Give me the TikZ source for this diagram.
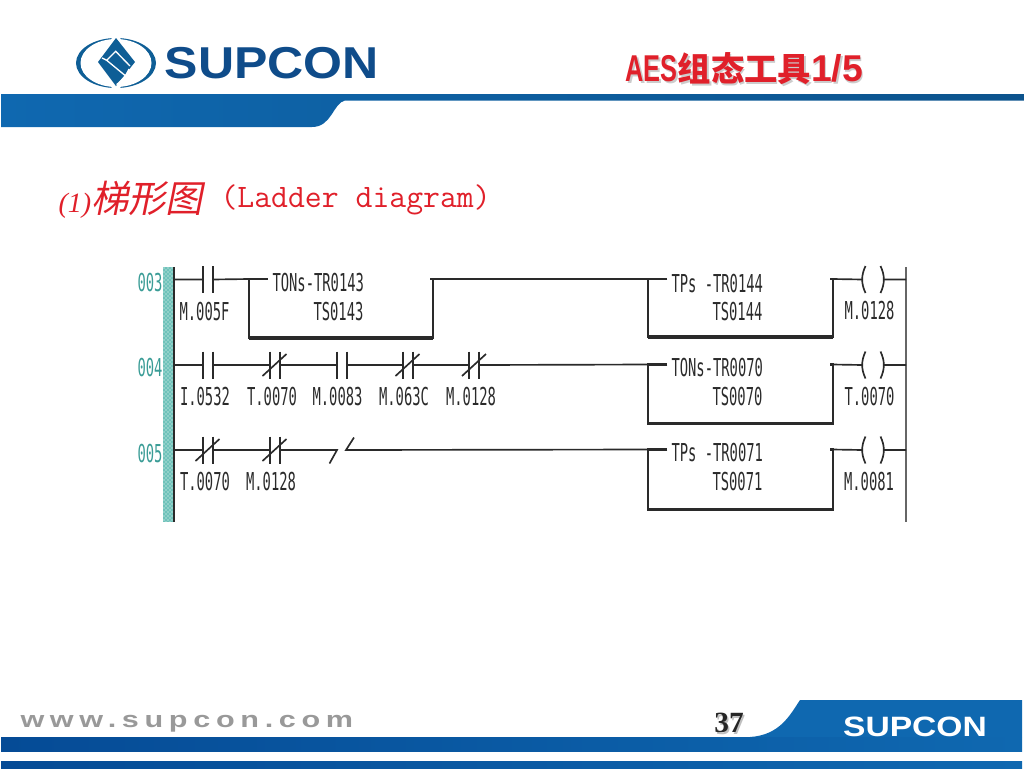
\documentclass[tikz,border=0pt]{standalone}
\usepackage{graphicx}
\usepackage{fontspec}
\usetikzlibrary{patterns}
\newfontfamily\plcfont[FakeStretch=0.56]{DejaVu Sans Mono}
\newfontfamily\logofont[FakeStretch=1.12]{Liberation Sans}
\newfontfamily\footlogofont[FakeStretch=1.2]{Liberation Sans}
\newfontfamily\webfont[FakeStretch=1.35,LetterSpace=25]{Liberation Sans}
\newfontfamily\arialfont{Liberation Sans}
\newfontfamily\timesfont{Liberation Serif}
\newfontfamily\cjkfont{Noto Sans CJK SC}
\newfontfamily\cjkslant[FakeSlant=0.2]{Noto Sans CJK SC}
\definecolor{barblue}{HTML}{0F68B0}
\definecolor{bardark}{HTML}{054B96}
\definecolor{logoblue}{HTML}{0F4C8A}
\definecolor{titlered}{HTML}{E0202A}
\definecolor{railteal}{HTML}{6FC2BA}
\definecolor{numteal}{HTML}{3A9C96}
\definecolor{plcink}{HTML}{2A2A2A}
\newcommand{\titletext}{{\arialfont\bfseries\scalebox{0.68}[1]{AES}}{\cjkfont\bfseries\fontsize{25}{27}\selectfont 组态工具}{\arialfont\bfseries 1/5}}
\newcommand{\timerbox}[1]{\draw[blockline] ([xshift=14.25pt]#1.north west) -- (#1.north west) -- (#1.south west) -- (#1.south east) -- (#1.north east) -- ([xshift=-2.25pt]#1.north east);
	\draw[blockline,line width=2.3pt] (#1.south west) -- (#1.south east);}
\tikzset{every picture/.style={line width=0.75pt}}
\tikzset{
	wire/.style={line width=1.25pt,draw=plcink},
	blockline/.style={line width=1.6pt,draw=plcink},
	plctext/.style={inner sep=0pt,text=plcink,font=\plcfont\fontsize{18.5}{20}\selectfont},
	rungnum/.style={inner sep=0pt,text=numteal,font=\plcfont\fontsize{18.5}{20}\selectfont},
	timer/.style={inner sep=0pt,minimum width=137.5pt},
	nocontact/.style={inner sep=0pt,minimum width=6.75pt,minimum height=19.5pt,append after command={
		(\tikzlastnode.north west) edge[wire,line width=1.5pt] (\tikzlastnode.south west)
		(\tikzlastnode.north east) edge[wire,line width=1.5pt] (\tikzlastnode.south east)}},
	nccontact/.style={nocontact,append after command={
		([shift={(-9pt,8.25pt)}]\tikzlastnode.center) edge[wire] ([shift={(9pt,-8.25pt)}]\tikzlastnode.center)}},
	coil/.style={inner sep=0pt,minimum width=15pt,minimum height=19.5pt,append after command={
		([xshift=2.25pt]\tikzlastnode.north west) edge[wire,bend left=25] ([xshift=2.25pt]\tikzlastnode.south west)
		([xshift=-2.25pt]\tikzlastnode.north east) edge[wire,bend right=25] ([xshift=-2.25pt]\tikzlastnode.south east)}},
}

\begin{document}
\begin{tikzpicture}[x=0.75pt,y=0.75pt,yscale=-1,xscale=1]
	\useasboundingbox (0,0) rectangle (1024,768);

	%Header band
	\shade [left color=barblue,right color=barblue!80!black] (1,94) -- (1024,94) -- (1024,100.5) -- (345,100.5) .. controls (333,103) and (332,127) .. (312,127) -- (1,127) -- cycle ;
	%Footer bands
	\shade [left color=bardark,right color=barblue] (1,737) -- (1022,737) -- (1022,751) -- (1,751) -- cycle ;
	\fill [barblue] (750,737) .. controls (780,735) and (790,715) .. (800,700) -- (1022,700) -- (1022,737) -- cycle ;
	\shade [left color=bardark,right color=barblue] (1,761) -- (1022,761) -- (1022,768) -- (1,768) -- cycle ;

	%Logo
	\fill [logoblue!90!cyan] (116,63) ellipse [x radius=40,y radius=25];
	\fill [white] (116,63) ellipse [x radius=35.5,y radius=24];
	\fill [white] (92,63) -- (116,33) -- (140,63) -- (116,93) -- cycle ;
	\fill [logoblue!90!cyan] (98,62) -- (116,38) -- (135,62) -- (116,86) -- cycle ;
	\draw [white,line width=1pt] (130,66) -- (115.7,51.3) -- (106.7,60.3) -- (125.7,76) -- (116.7,84.7) ;
	\draw [white,line width=1pt] (102,58) -- (106.7,60.3) (125.7,76) -- (129,69) ;

	% Text Node
	\node (logotext) at (272,63) {\logofont\bfseries\fontsize{33.5}{36}\selectfont\color{logoblue}SUPCON};
	% Text Node
	\node [text=black!20,anchor=west,inner sep=0pt,font=\fontsize{28}{30}\selectfont] (titleshade) at (626.5,70.5) {\titletext};
	% Text Node
	\node [text=titlered,anchor=west,inner sep=0pt,font=\fontsize{28}{30}\selectfont] (title) at (625,69) {\titletext};
	% Text Node
	\node [text=titlered,anchor=west,inner sep=0pt] (heading) at (58,200) {{\timesfont\itshape\fontsize{21}{24}\selectfont (1)}{\cjkslant\fontsize{28}{30}\selectfont 梯形图}};
	% Text Node
	\node [text=titlered,anchor=west,inner sep=0pt] (headingen) at (220,200) {\ttfamily\fontsize{24.6}{26}\selectfont (Ladder diagram)};
	% Text Node
	\node [text=black!40,anchor=base west,inner sep=0pt] (website) at (20,727) {\webfont\bfseries\fontsize{17}{20}\selectfont www.supcon.com};
	% Text Node
	\node [text=black!25,inner sep=0pt] (pageshade) at (730.5,724.5) {\timesfont\bfseries\fontsize{22}{24}\selectfont 37};
	% Text Node
	\node [text=black!85,inner sep=0pt] (page) at (729,723) {\timesfont\bfseries\fontsize{22}{24}\selectfont 37};
	% Text Node
	\node [text=white,inner sep=0pt] (footlogo) at (915,727) {\footlogofont\bfseries\fontsize{21}{24}\selectfont SUPCON};

	%Rails
	\fill [railteal] (163,267) rectangle (172.5,522);
	\fill [pattern=crosshatch dots,pattern color=white] (163,267) rectangle (172.5,522);
	\draw [wire] (174,267) -- (174,522) ;
	\draw [wire,draw=black!60] (906,267) -- (906,522) ;
	\coordinate (in003) at (174,279.5);
	\coordinate (in004) at (174,365);
	\coordinate (in005) at (174,450);
	\coordinate (out003) at (906,279.5);
	\coordinate (out004) at (906,365);
	\coordinate (out005) at (906,450);

	% Text Node
	\node [rungnum] (num003) at (150,283) {003};
	\node [rungnum] (num004) at (150,368) {004};
	\node [rungnum] (num005) at (150,454) {005};

	%Contacts
	\node [nocontact] (c31) at (207.5,279.5) {};
	\node [nocontact] (c41) at (207.5,365) {};
	\node [nccontact] (c42) at (274.5,365) {};
	\node [nocontact] (c43) at (341.5,365) {};
	\node [nccontact] (c44) at (407.5,365) {};
	\node [nccontact] (c45) at (474,365) {};
	\node [nccontact] (c51) at (207.5,450) {};
	\node [nccontact] (c52) at (274.5,450) {};

	%Timer blocks
	\node [timer,minimum height=43.5pt] (ton143) at (341,308.5) {};
	\node [timer,minimum height=42.75pt] (tp144) at (740.5,308) {};
	\node [timer,minimum height=43.5pt] (ton070) at (740.5,394) {};
	\node [timer,minimum height=44.25pt] (tp071) at (740.5,479.5) {};
	\timerbox{ton143}
	\timerbox{tp144}
	\timerbox{ton070}
	\timerbox{tp071}

	%Coils
	\node [coil] (y128) at (873,279.5) {};
	\node [coil] (y070) at (873,365) {};
	\node [coil] (y081) at (873,450) {};

	%Open contact ends
	\coordinate (opena) at (337,450);
	\coordinate (opena1) at (329.5,463.5);
	\coordinate (openb) at (346,450);
	\coordinate (openb1) at (354,437.5);

	%Straight Lines
	\draw [wire] (in003) -- (c31.west) (c31.east) -- (ton143.north west) ;
	\draw [wire] (ton143.north east) -- (tp144.north west) ;
	\draw [wire] (tp144.north east) -- (y128.west) (y128.east) -- (out003) ;
	\draw [wire] (in004) -- (c41.west) (c41.east) -- (c42.west) (c42.east) -- (c43.west) (c43.east) -- (c44.west) (c44.east) -- (c45.west) (c45.east) -- (ton070.north west) ;
	\draw [wire] (ton070.north east) -- (y070.west) (y070.east) -- (out004) ;
	\draw [wire] (in005) -- (c51.west) (c51.east) -- (c52.west) (c52.east) -- (opena) -- (opena1) ;
	\draw [wire] (openb1) -- (openb) -- (tp071.north west) ;
	\draw [wire] (tp071.north east) -- (y081.west) (y081.east) -- (out005) ;

	% Text Node
	\node [plctext] (lc31) at (204.5,312) {M.005F};
	\node [plctext,anchor=west] (tona) at (272,283) {TONs-TR0143};
	\node [plctext,anchor=west] (tonb) at (313,312) {TS0143};
	\node [plctext,anchor=west] (tpa) at (671,284) {TPs -TR0144};
	\node [plctext,anchor=west] (tpb) at (712,312) {TS0144};
	\node [plctext] (ly128) at (869.5,311) {M.0128};
	% Text Node
	\node [plctext] (lc41) at (205,397) {I.0532};
	\node [plctext] (lc42) at (272,397) {T.0070};
	\node [plctext] (lc43) at (337.5,397) {M.0083};
	\node [plctext] (lc44) at (404,397) {M.063C};
	\node [plctext] (lc45) at (471,397) {M.0128};
	\node [plctext,anchor=west] (tonc) at (671,368) {TONs-TR0070};
	\node [plctext,anchor=west] (tond) at (712,397) {TS0070};
	\node [plctext] (ly070) at (869.5,397) {T.0070};
	% Text Node
	\node [plctext] (lc51) at (205,482) {T.0070};
	\node [plctext] (lc52) at (271,482) {M.0128};
	\node [plctext,anchor=west] (tpc) at (671,453) {TPs -TR0071};
	\node [plctext,anchor=west] (tpd) at (712,482) {TS0071};
	\node [plctext] (ly081) at (869,482) {M.0081};
\end{tikzpicture}
\end{document}
